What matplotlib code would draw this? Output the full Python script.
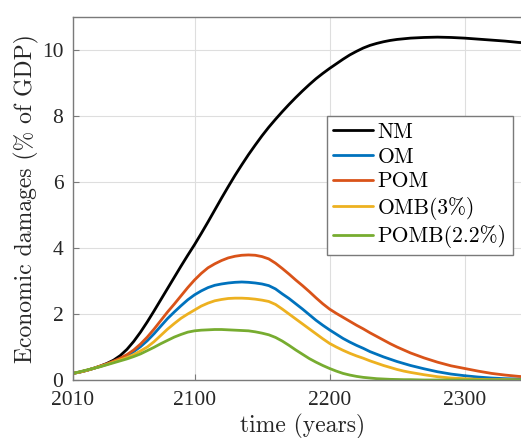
import matplotlib
matplotlib.use("Agg")
import matplotlib.pyplot as plt

years = [2010, 2015, 2020, 2025, 2030, 2035,
         2040, 2045, 2050, 2055, 2060, 2065, 2070, 2075, 2080, 2085,
         2090, 2095, 2100, 2105, 2110, 2115, 2120, 2125, 2130, 2135,
         2140, 2145, 2150, 2155, 2160, 2165, 2170, 2175, 2180, 2185,
         2190, 2195, 2200, 2205, 2210, 2215, 2220, 2225, 2230, 2235,
         2240, 2245, 2250, 2255, 2260,
         2270, 2280, 2290, 2300, 2310, 2320, 2330, 2340, 2350]

nm = [0.20, 0.24, 0.29, 0.35, 0.42, 0.50,
      0.60, 0.74, 0.93, 1.17, 1.45, 1.76, 2.09, 2.43, 2.77, 3.11,
      3.45, 3.78, 4.10, 4.44, 4.79, 5.15, 5.51, 5.86, 6.20, 6.52,
      6.83, 7.12, 7.40, 7.66, 7.90, 8.13, 8.35, 8.56, 8.76, 8.95,
      9.13, 9.29, 9.44, 9.58, 9.72, 9.85, 9.96, 10.06, 10.14, 10.20,
      10.25, 10.29, 10.32, 10.34, 10.36,
      10.38, 10.39, 10.38, 10.36, 10.33, 10.30, 10.27, 10.23, 10.20]

om = [0.20, 0.24, 0.29, 0.35, 0.41, 0.48,
      0.56, 0.64, 0.74, 0.86, 1.01, 1.19, 1.40, 1.63, 1.86, 2.06,
      2.25, 2.43, 2.58, 2.70, 2.80, 2.87, 2.91, 2.94, 2.96, 2.97,
      2.96, 2.94, 2.91, 2.86, 2.76, 2.61, 2.47, 2.31, 2.15, 1.98,
      1.81, 1.66, 1.52, 1.39, 1.26, 1.15, 1.05, 0.96, 0.86, 0.78,
      0.70, 0.63, 0.56, 0.50, 0.44,
      0.34, 0.25, 0.18, 0.13, 0.09, 0.06, 0.04, 0.03, 0.02]

pom = [0.20, 0.24, 0.29, 0.35, 0.42, 0.49,
       0.57, 0.66, 0.77, 0.91, 1.09, 1.30, 1.54, 1.80, 2.06, 2.30,
       2.55, 2.80, 3.03, 3.23, 3.40, 3.52, 3.62, 3.70, 3.75, 3.78,
       3.79, 3.78, 3.74, 3.67, 3.54, 3.38, 3.21, 3.03, 2.86, 2.68,
       2.49, 2.31, 2.15, 2.02, 1.90, 1.78, 1.66, 1.55, 1.43, 1.32,
       1.21, 1.10, 1.00, 0.91, 0.82,
       0.67, 0.54, 0.43, 0.35, 0.27, 0.20, 0.15, 0.11, 0.08]

omb = [0.20, 0.24, 0.29, 0.35, 0.41, 0.47,
       0.54, 0.61, 0.68, 0.77, 0.88, 1.00, 1.16, 1.35, 1.54, 1.71,
       1.87, 2.00, 2.12, 2.24, 2.33, 2.40, 2.44, 2.47, 2.48, 2.48,
       2.47, 2.45, 2.42, 2.38, 2.29, 2.15, 2.00, 1.85, 1.70, 1.55,
       1.40, 1.25, 1.11, 1.00, 0.90, 0.81, 0.73, 0.66, 0.58, 0.51,
       0.44, 0.38, 0.32, 0.27, 0.23,
       0.16, 0.10, 0.06, 0.04, 0.02, 0.01, 0.01, 0.00, 0.00]

pomb = [0.20, 0.25, 0.30, 0.35, 0.40, 0.46,
        0.52, 0.58, 0.64, 0.71, 0.79, 0.89, 0.99, 1.10, 1.20, 1.30,
        1.38, 1.45, 1.49, 1.51, 1.52, 1.53, 1.53, 1.52, 1.51, 1.50,
        1.49, 1.46, 1.42, 1.37, 1.29, 1.18, 1.05, 0.91, 0.78, 0.65,
        0.54, 0.44, 0.35, 0.27, 0.20, 0.15, 0.11, 0.08, 0.06, 0.04,
        0.03, 0.02, 0.015, 0.01, 0.01,
        0.00, 0.00, 0.00, 0.00, 0.00, 0.00, 0.00, 0.00, 0.00]

labels = ["NM", "OM", "POM", "OMB(3%)", "POMB(2.2%)"]
colors = ["#000000", "#0072BD", "#D95319", "#EDB120", "#77AC30"]
xticks = [2010, 2100, 2200, 2300]
yticks = [0, 2, 4, 6, 8, 10]

W, H = 521, 438
AXW, AXH = 459.0, 363.0
fig = plt.figure(figsize=(W / 100, H / 100), dpi=100)
ax = fig.add_axes([73 / W, 58 / H, AXW / W, AXH / H])

for series, lab, col in zip([nm, om, pom, omb, pomb], labels, colors):
    ax.plot(years, series, color=col, lw=2.0, label=lab,
            solid_capstyle="round", solid_joinstyle="round")

ax.set_xlim(2010, 2350)
ax.set_ylim(0, 11)
ax.set_xticks(xticks)
ax.set_yticks(yticks)
ax.grid(True, color="#dedede", lw=0.8)
ax.set_axisbelow(True)
for sp in ax.spines.values():
    sp.set_color("#7a7a7a")
    sp.set_linewidth(1.0)
ax.tick_params(direction="in", length=4, width=0.8, color="#7a7a7a",
               labelsize=15.5, top=False, right=False)
for t in ax.get_xticklabels() + ax.get_yticklabels():
    t.set_fontfamily("Liberation Serif")
    t.set_color("#262626")
ax.tick_params(axis="x", pad=8)
ax.tick_params(axis="y", pad=7)

ax.set_xlabel("time (years)", fontfamily="cmr10", fontsize=17, color="#262626")
ax.xaxis.set_label_coords((303 - 73) / AXW, (380 - 414) / AXH)
ax.set_ylabel("Economic damages (% of GDP)", fontfamily="cmr10", fontsize=17,
              color="#262626")
ax.yaxis.set_label_coords((39 - 73) / AXW, 0.5)

leg = ax.legend(loc="upper left",
                bbox_to_anchor=((326.7 - 73) / AXW, (380 - 115.7) / AXH),
                prop={"family": "cmr10", "size": 15.5}, frameon=True, fancybox=False,
                edgecolor="#7a7a7a", framealpha=1, handlelength=1.85,
                handletextpad=0.2, labelspacing=0.25, borderpad=0.3,
                borderaxespad=0)
leg.get_frame().set_linewidth(1.0)

fig.savefig("out.png", dpi=100)
